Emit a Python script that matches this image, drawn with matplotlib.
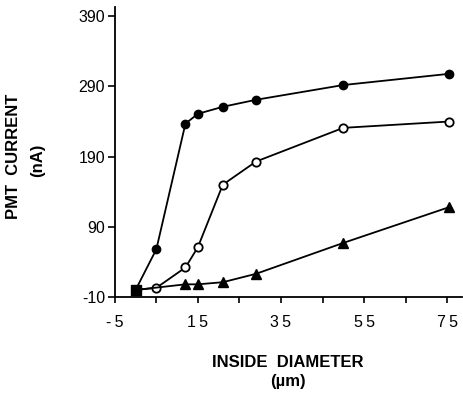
import matplotlib
matplotlib.use("Agg")
import matplotlib.pyplot as plt
from matplotlib.ticker import FixedLocator, FixedFormatter, NullFormatter

# Data
filled_x = [0, 5, 12, 15, 21, 29, 50, 75.5]
filled_y = [0, 58, 237, 251, 261, 271, 292, 308]
open_x = [0, 5, 12, 15, 21, 29, 50, 75.5]
open_y = [0, 3, 32, 61, 150, 183, 231, 240]
tri_x = [0, 12, 15, 21, 29, 50, 75.5]
tri_y = [0, 8, 8, 11, 23, 67, 118]
origin_x = [0]
origin_y = [0]

x_major = [-5, 15, 35, 55, 75]
x_major_labels = ["-\u20095", "1\u20095", "3\u20095", "5\u20095", "7\u20095"]
x_minor = [5, 25, 45, 65]
y_ticks = [-10, 90, 190, 290, 390]
y_labels = ["-10", "90", "190", "290", "390"]

plt.rcParams['font.family'] = ['Liberation Sans', 'DejaVu Sans']

fig = plt.figure(figsize=(4.63, 3.97), dpi=100)
ax = fig.add_axes([0.248, 0.252, 0.75, 0.73])

ax.plot(filled_x, filled_y, color='black', lw=1.3, marker='o', ms=6,
        mfc='black', mec='black', zorder=3)
ax.plot(open_x, open_y, color='black', lw=1.3, marker='o', ms=6,
        mfc='white', mec='black', mew=1.3, zorder=3)
ax.plot(tri_x, tri_y, color='black', lw=1.3, marker='^', ms=6.5,
        mfc='black', mec='black', zorder=3)
ax.plot(origin_x, origin_y, ls='none', marker='s', ms=7, color='black', zorder=4)

ax.set_xlim(-5, 78.6)
ax.set_ylim(-10, 403)

ax.spines['top'].set_visible(False)
ax.spines['right'].set_visible(False)
ax.spines['left'].set_linewidth(1.3)
ax.spines['bottom'].set_linewidth(1.3)

ax.xaxis.set_major_locator(FixedLocator(x_major))
ax.xaxis.set_major_formatter(FixedFormatter(x_major_labels))
ax.xaxis.set_minor_locator(FixedLocator(x_minor))
ax.xaxis.set_minor_formatter(NullFormatter())
ax.yaxis.set_major_locator(FixedLocator(y_ticks))
ax.yaxis.set_major_formatter(FixedFormatter(y_labels))

ax.tick_params(axis='x', which='both', direction='out', length=4, width=1.2,
               labelsize=11.5, pad=9)
ax.tick_params(axis='y', which='both', direction='out', length=5, width=1.2,
               labelsize=11.5, pad=2)

fig.text(0.030, 0.605, "PMT  CURRENT", rotation=90, ha='center', va='center',
         fontsize=12, fontweight='bold')
fig.text(0.082, 0.597, "(nA)", rotation=90, ha='center', va='center',
         fontsize=12, fontweight='bold')
fig.text(0.622, 0.088, "INSIDE  DIAMETER", ha='center', va='center',
         fontsize=12, fontweight='bold')
fig.text(0.622, 0.038, "(\u00b5m)", ha='center', va='center',
         fontsize=12, fontweight='bold')

fig.savefig("out.png", dpi=100)
